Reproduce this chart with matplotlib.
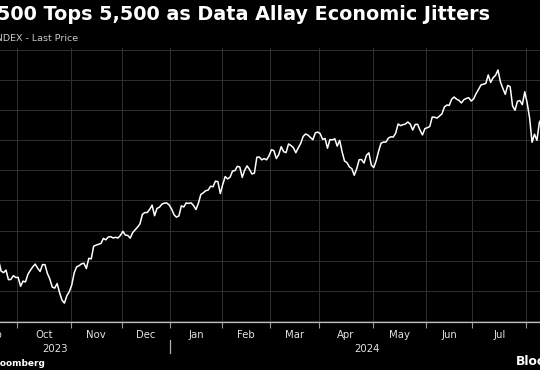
import numpy as np
import pandas as pd
import matplotlib
matplotlib.use("Agg")
import matplotlib.pyplot as plt
import matplotlib.transforms as mtransforms
from matplotlib.lines import Line2D

# ---------------- data ----------------
title = "S&P 500 Tops 5,500 as Data Allay Economic Jitters"
subtitle = "S&P 500 INDEX - Last Price"
source = "Source: Bloomberg"
brand = "Bloomberg"

holidays = ["2023-09-04", "2023-11-23", "2023-12-25", "2024-01-01", "2024-01-15",
            "2024-02-19", "2024-03-29", "2024-05-27", "2024-06-19", "2024-07-04"]
dates = pd.bdate_range("2023-08-16", "2024-08-16", freq="C", holidays=holidays)

aug23 = [4404.33, 4370.36, 4369.71, 4399.77, 4387.55, 4436.01, 4376.31, 4405.71,
         4433.31, 4497.63, 4514.87, 4507.66]
sep23 = [4515.77, 4496.83, 4465.48, 4451.14, 4457.49, 4487.46, 4461.90, 4467.44,
         4505.10, 4450.32, 4453.53, 4443.95, 4402.20, 4330.00, 4320.06, 4337.44,
         4273.53, 4274.51, 4299.70, 4288.05]
oct23 = [4288.39, 4229.45, 4263.75, 4258.19, 4308.50, 4335.66, 4358.24, 4376.95,
         4349.61, 4327.78, 4373.63, 4373.20, 4314.60, 4278.00, 4224.16, 4217.04,
         4247.68, 4186.77, 4137.23, 4117.37, 4166.82, 4193.80]
nov23 = [4237.86, 4317.78, 4358.34, 4365.98, 4378.38, 4382.78, 4347.35, 4415.24,
         4411.55, 4495.70, 4502.88, 4508.24, 4514.02, 4547.38, 4538.19, 4556.62,
         4559.34, 4550.43, 4554.89, 4550.58, 4567.80]
dec23 = [4594.63, 4569.78, 4567.18, 4549.34, 4585.59, 4604.37, 4622.44, 4643.70,
         4707.09, 4719.55, 4719.19, 4740.56, 4768.37, 4698.35, 4746.75, 4754.63,
         4774.75, 4781.58, 4783.35, 4769.83]
jan24 = [4742.83, 4704.81, 4688.68, 4697.24, 4763.54, 4756.50, 4783.45, 4780.24,
         4783.83, 4765.98, 4739.21, 4780.94, 4839.81, 4850.43, 4864.60, 4868.55,
         4894.16, 4890.97, 4927.93, 4924.97, 4845.65]
feb24 = [4906.19, 4958.61, 4942.81, 4954.23, 4995.06, 4997.91, 5026.61, 5021.84,
         4953.17, 5000.62, 5029.73, 5005.57, 4975.51, 4981.80, 5087.03, 5088.80,
         5069.53, 5078.18, 5069.76, 5096.27]
mar24 = [5137.08, 5130.95, 5078.65, 5104.76, 5157.36, 5123.69, 5117.94, 5175.27,
         5165.31, 5150.48, 5117.09, 5149.42, 5178.51, 5224.62, 5241.53, 5234.18,
         5218.19, 5203.58, 5248.49, 5254.35]
apr24 = [5243.77, 5205.81, 5211.49, 5147.21, 5204.34, 5202.39, 5209.91, 5160.64,
         5199.06, 5123.41, 5061.82, 5051.41, 5022.21, 5011.12, 4967.23, 5010.60,
         5070.55, 5071.63, 5048.42, 5099.96, 5116.17, 5035.69]
may24 = [5018.39, 5064.20, 5127.79, 5180.74, 5187.70, 5187.67, 5214.08, 5222.68,
         5221.42, 5246.68, 5308.15, 5297.10, 5303.27, 5308.13, 5321.41, 5307.01,
         5267.84, 5304.72, 5306.04, 5266.95, 5235.48, 5277.51]
jun24 = [5283.40, 5291.34, 5354.03, 5352.96, 5346.99, 5360.79, 5375.32, 5421.03,
         5433.74, 5431.60, 5473.23, 5487.03, 5473.17, 5464.62, 5447.87, 5469.30,
         5477.90, 5482.87, 5460.48]
jul24 = [5475.09, 5509.01, 5537.02, 5567.19, 5572.85, 5576.98, 5633.91, 5584.54,
         5615.35, 5631.22, 5667.20, 5588.27, 5544.59, 5505.00, 5564.41, 5555.74,
         5427.13, 5399.22, 5459.10, 5463.54, 5436.44, 5522.30]
aug24 = [5446.68, 5346.56, 5186.33, 5240.03, 5199.50, 5319.31, 5344.16, 5344.39,
         5434.43, 5455.21, 5543.22, 5554.25]

values = np.array(aug23 + sep23 + oct23 + nov23 + dec23 + jan24 + feb24 + mar24
                  + apr24 + may24 + jun24 + jul24 + aug24)
assert len(values) == len(dates), (len(values), len(dates))

y_grid = list(range(4000, 5801, 200))

# ---------------- figure ----------------
W, H = 540, 370
fig = plt.figure(figsize=(W / 100, H / 100), dpi=100, facecolor="black")

ax_left_px, ax_right_px = -61, 563
ax_top_px, ax_bot_px = 48, 322
ax = fig.add_axes([ax_left_px / W, 1 - ax_bot_px / H,
                   (ax_right_px - ax_left_px) / W, (ax_bot_px - ax_top_px) / H])
ax.set_facecolor("black")

x = np.arange(len(dates))
ax.plot(x, values, color="white", lw=1.1, solid_joinstyle="round", zorder=3)

ax.set_xlim(x[0] - 0.5, x[-1] + 3.7)
ax.set_ylim(3992, 5813)

# month boundaries
months = dates.to_period("M")
bounds = [i - 0.5 for i in range(1, len(dates)) if months[i] != months[i - 1]]
ax.set_xticks(bounds)
ax.set_xticklabels([])
ax.set_yticks(y_grid)
ax.set_yticklabels([])
ax.tick_params(axis="y", length=0)
ax.tick_params(axis="x", length=4, width=0.8, color="#9a9a9a", direction="out")
ax.grid(True, color="#303030", lw=0.7)
ax.set_axisbelow(True)
for s in ["top", "left", "right"]:
    ax.spines[s].set_visible(False)
ax.spines["bottom"].set_color("#bdbdbd")
ax.spines["bottom"].set_linewidth(0.9)

trans = mtransforms.blended_transform_factory(ax.transData, fig.transFigure)
# month labels for full months
for a, b in zip(bounds[:-1], bounds[1:]):
    lab = dates[int(a + 0.5)].strftime("%b")
    ax.text((a + b) / 2, 1 - 338 / H, lab, transform=trans, ha="center", va="baseline",
            color="#e2e2e2", fontsize=7.3, clip_on=False)

# year labels and divider
xl = ax.get_xlim()
year_b = [bd for bd in bounds if dates[int(bd + 0.5)].month == 1][0]
ax.text((xl[0] + year_b) / 2, 1 - 352 / H, str(dates[0].year), transform=trans,
        ha="center", va="baseline", color="#e2e2e2", fontsize=7.3, clip_on=False)
ax.text((year_b + xl[1]) / 2, 1 - 352 / H, str(dates[-1].year), transform=trans,
        ha="center", va="baseline", color="#e2e2e2", fontsize=7.3, clip_on=False)
ax.add_line(Line2D([year_b, year_b], [1 - 340 / H, 1 - 353 / H], transform=trans,
                   color="#b0b0b0", lw=0.9, clip_on=False))

# titles and footer
fig.text(490 / W, 1 - 20 / H, title, ha="right", va="baseline", color="white",
         fontsize=13.75, fontweight="bold")
fig.text(78 / W, 1 - 41 / H, subtitle, ha="right", va="baseline", color="#c8c8c8",
         fontsize=6.8)
fig.text(45 / W, 1 - 366 / H, source, ha="right", va="baseline", color="white",
         fontsize=6.5, fontweight="bold")
fig.text(516 / W, 1 - 365 / H, brand, ha="left", va="baseline", color="white",
         fontsize=8.8, fontweight="bold")

fig.savefig("out.png", dpi=100, facecolor="black")
